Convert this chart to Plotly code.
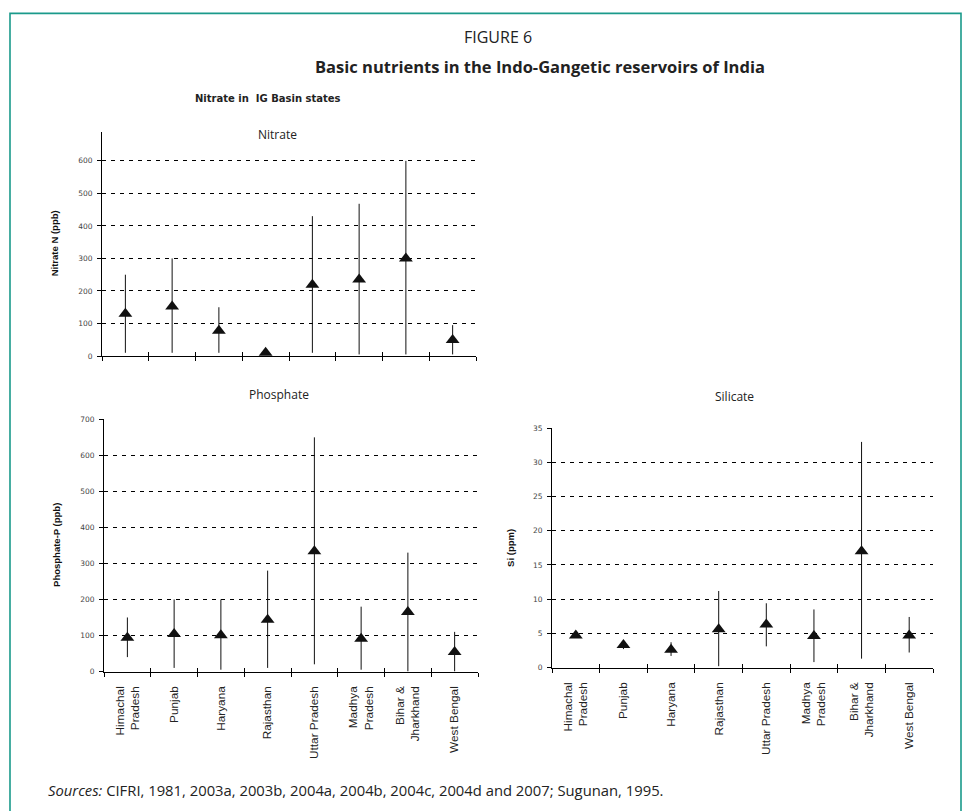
import plotly.graph_objects as go

W, H = 962, 811

# ---- data -------------------------------------------------------------
states = ["Himachal<br>Pradesh", "Punjab", "Haryana", "Rajasthan",
          "Uttar Pradesh", "Madhya<br>Pradesh", "Bihar &<br>Jharkhand", "West Bengal"]

nitrate_mean = [130, 152, 78, 10, 219, 235, 300, 49]
nitrate_min = [10, 10, 10, 5, 10, 5, 5, 5]
nitrate_max = [250, 300, 150, 15, 430, 468, 600, 95]

phosphate_mean = [94, 104, 101, 144, 334, 91, 165, 54]
phosphate_min = [40, 10, 5, 10, 20, 5, 0, 0]
phosphate_max = [150, 200, 200, 280, 650, 180, 330, 110]

silicate_mean = [4.7, 3.3, 2.6, 5.6, 6.3, 4.6, 17.0, 4.7]
silicate_min = [4.5, 2.7, 1.7, 0.2, 3.1, 0.8, 1.3, 2.2]
silicate_max = [5.0, 4.0, 3.7, 11.2, 9.4, 8.5, 33.0, 7.4]

nitrate_ticks = [0, 100, 200, 300, 400, 500, 600]
phosphate_ticks = [0, 100, 200, 300, 400, 500, 600, 700]
silicate_ticks = [0, 5, 10, 15, 20, 25, 30, 35]


def px(x):
    return x / W


def py(y):
    return 1 - y / H


xs = list(range(len(states)))
bounds = [i - 0.5 for i in range(len(states) + 1)]
INK = "#111111"

fig = go.Figure()


def add_range_series(mean, lo, hi, xa, ya):
    fig.add_trace(go.Scatter(
        x=xs, y=mean, mode="markers", xaxis=xa, yaxis=ya,
        marker=dict(symbol="triangle-up", size=12, color=INK),
        error_y=dict(type="data", symmetric=False,
                     array=[h - m for h, m in zip(hi, mean)],
                     arrayminus=[m - l for m, l in zip(mean, lo)],
                     width=0, thickness=1, color=INK),
        showlegend=False, hoverinfo="skip"))


add_range_series(nitrate_mean, nitrate_min, nitrate_max, "x", "y")
add_range_series(phosphate_mean, phosphate_min, phosphate_max, "x2", "y2")
add_range_series(silicate_mean, silicate_min, silicate_max, "x3", "y3")

# empty traces so the overlay tick axes are drawn
for xa, ya in (("x4", "y"), ("x5", "y2"), ("x6", "y3")):
    fig.add_trace(go.Scatter(x=[], y=[], xaxis=xa, yaxis=ya,
                             showlegend=False, hoverinfo="skip"))

xlabel_font = dict(family="Liberation Sans, Arial, sans-serif", size=11.8, color="#222")
ytick_font = dict(family="DejaVu Sans, sans-serif", size=7.5, color="#444")


def cat_axis(domain, anchor, labels):
    return dict(
        domain=domain, anchor=anchor, range=[-0.5, len(states) - 0.5],
        showline=True, linecolor="black", linewidth=1,
        showgrid=False, zeroline=False,
        tickmode="array", tickvals=xs, ticktext=states,
        showticklabels=labels, ticks="", tickangle=-90,
        tickfont=xlabel_font, ticklabelstandoff=9,
        minor=dict(tickmode="array", tickvals=bounds, ticks="outside",
                   ticklen=4, tickwidth=1, tickcolor="black", showgrid=False),
    )


def tick_overlay(base, anchor):
    return dict(
        overlaying=base, anchor=anchor, side="bottom",
        range=[-0.5, len(states) - 0.5],
        tickmode="array", tickvals=bounds, ticks="inside",
        ticklen=4, tickwidth=1, tickcolor="black",
        showticklabels=False, showgrid=False, zeroline=False, showline=False,
    )


def value_axis(domain, anchor, top, ticks):
    return dict(
        domain=domain, anchor=anchor, range=[0, top],
        showline=True, linecolor="black", linewidth=1,
        showgrid=True, gridcolor="black", gridwidth=1, griddash="4px,5px",
        zeroline=False, tickmode="array", tickvals=ticks,
        ticks="outside", ticklen=4, tickwidth=1, tickcolor="black",
        tickfont=ytick_font, ticklabelstandoff=3,
    )


fig.update_layout(
    width=W, height=H,
    margin=dict(l=0, r=0, t=0, b=0),
    paper_bgcolor="white", plot_bgcolor="rgba(0,0,0,0)",
    xaxis=cat_axis([px(102), px(476)], "y", False),
    yaxis=value_axis([py(356), py(129)], "x", 690, nitrate_ticks),
    xaxis2=cat_axis([px(104), px(478)], "y2", True),
    yaxis2=value_axis([py(675), py(420)], "x2", 700, phosphate_ticks),
    xaxis3=cat_axis([px(552), px(933)], "y3", True),
    yaxis3=value_axis([py(671), py(429)], "x3", 35, silicate_ticks),
    xaxis4=tick_overlay("x", "y"),
    xaxis5=tick_overlay("x2", "y2"),
    xaxis6=tick_overlay("x3", "y3"),
)

serif_free = "Open Sans, Noto Sans, sans-serif"
arial = "Liberation Sans, Arial, sans-serif"


def note(text, x, y, size, family, angle=0, color="#111"):
    fig.add_annotation(text=text, x=px(x), y=py(y), xref="paper", yref="paper",
                       xanchor="center", yanchor="middle", showarrow=False,
                       textangle=angle, font=dict(size=size, family=family, color=color))


note("FIGURE 6", 498, 33, 16, serif_free, color="#222")
note("<b>Basic nutrients in the Indo-Gangetic reservoirs of India</b>", 540, 63, 16.5, serif_free, color="#222")
note("<b>Nitrate in\u00a0 IG Basin states</b>", 268, 96, 10, "DejaVu Sans, sans-serif", color="#222")

note("Nitrate", 277, 132, 12, serif_free, color="#222")
note("Phosphate", 279, 395, 12, serif_free, color="#222")
note("Silicate", 734, 397, 12, serif_free, color="#222")

note("<b>Nitrate N (ppb)</b>", 54, 242, 9.5, arial, angle=-90)
note("<b>Phosphate-P (ppb)</b>", 57, 547, 9.5, arial, angle=-90)
note("<b>Si (ppm)</b>", 511, 550, 9.5, arial, angle=-90)

fig.add_annotation(
    text="<i>Sources:</i> CIFRI, 1981, 2003a, 2003b, 2004a, 2004b, 2004c, 2004d and 2007; Sugunan, 1995.",
    x=px(46), y=py(795), xref="paper", yref="paper", xanchor="left", yanchor="middle",
    showarrow=False, font=dict(size=14.8, family=serif_free, color="#222"))

# teal frame around the figure
fig.add_shape(type="rect", xref="paper", yref="paper",
              x0=px(10), x1=px(961), y0=-0.05, y1=py(9.5),
              line=dict(color="#1a9a8b", width=1.6), fillcolor="rgba(0,0,0,0)")

fig.write_html("out.html")
